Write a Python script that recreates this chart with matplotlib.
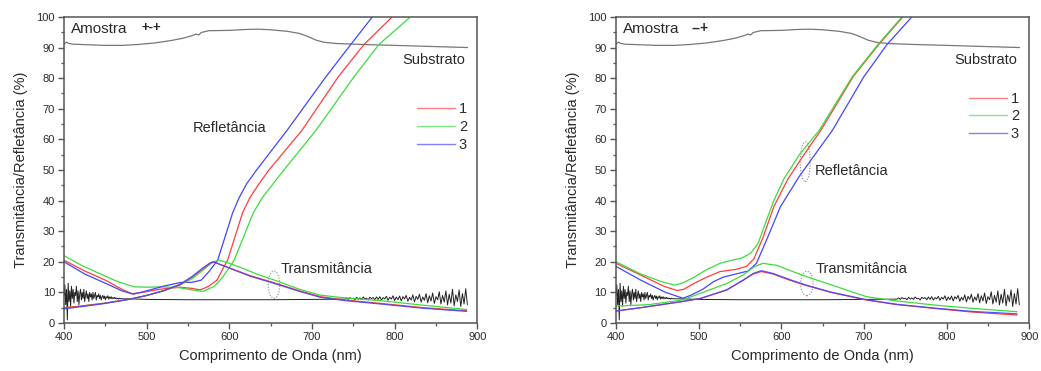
import matplotlib
matplotlib.use("Agg")
import matplotlib.pyplot as plt
from matplotlib.patches import Ellipse
from matplotlib.lines import Line2D

plt.rcParams['font.family'] = ['Liberation Sans', 'DejaVu Sans']

# ---------------- data ----------------
# substrate transmittance (~90 %), identical in both panels
wl_subT = [400, 403, 405, 410, 430, 450, 470, 490, 510, 530, 545, 555, 560, 563, 566, 575,
           600, 620, 635, 650, 670, 685, 695, 705, 715, 730, 760, 800, 850, 888]
subT = [91.0, 91.8, 91.4, 91.1, 90.9, 90.7, 90.7, 91.0, 91.5, 92.3, 93.1, 93.9, 94.4, 94.1, 94.9, 95.5,
        95.6, 95.9, 96.0, 95.8, 95.3, 94.6, 93.6, 92.4, 91.7, 91.3, 91.0, 90.7, 90.3, 90.0]

# substrate reflectance (~8 %), noisy at both ends
wl_subR_start = list(range(400, 471))
subR_start = [9, 12.5, 6, 11, 1, 13, 7, 10.5, 5.5, 12,
              8, 11, 6.5, 10, 9, 12, 7, 10.5, 6, 9.5,
              11, 7.5, 10, 8, 11, 7, 9, 10.5, 8, 9.5,
              7, 10, 8.5, 9.5, 7.5, 10, 8, 9, 10, 7.5,
              9, 8.5, 9.5, 8, 9, 7.5, 8.5, 9, 8, 8.8,
              7.6, 8.6, 8.2, 8.9, 7.8, 8.5, 8.0, 8.6, 7.9, 8.3,
              8.0, 8.4, 7.9, 8.2, 7.9, 8.1, 7.8, 8.1, 7.9, 8.0,
              7.9]
wl_subR_mid = [480, 500, 550, 600, 650, 700, 730]
subR_mid = [7.9, 7.7, 7.6, 7.6, 7.6, 7.7, 7.8]
wl_subR_end = list(range(740, 890, 2))
subR_end = [7.8, 8.2, 7.7, 8.3, 7.9, 8.1, 7.6, 8.4, 7.8, 8.2, 7.7, 8.5, 7.9, 8.1, 7.5, 8.4, 8.0, 8.3, 7.6, 8.5,
            7.7, 8.6, 7.5, 8.3, 7.9, 8.7, 7.4, 8.4, 7.8, 8.9, 7.3, 8.5, 7.6, 8.8, 7.2, 8.6, 7.9, 9.0, 7.1, 8.4,
            7.5, 9.2, 6.9, 8.7, 7.7, 9.4, 6.8, 8.5, 7.4, 9.6, 6.6, 8.9, 7.2, 9.8, 6.4, 8.6, 7.6, 10.2, 6.2, 9.0,
            6.8, 10.5, 5.9, 9.4, 6.5, 11.0, 5.6, 9.2, 7.0, 10.8, 5.4, 9.6, 6.2, 11.2, 6.0]
wl_subR = wl_subR_start + wl_subR_mid + wl_subR_end
subR = subR_start + subR_mid + subR_end

# ---- Panel A: Amostra +-+ ----
A_wl_R1 = [400, 425, 450, 470, 482, 495, 515, 540, 555, 565, 575, 585, 598, 609, 616, 625, 636, 648, 688, 732, 763, 797, 805]
A_R1 = [20.5, 17, 14, 11, 9.6, 10, 11, 11.7, 11.3, 10.8, 12, 14, 20.6, 30, 36, 41, 45.5, 50, 63, 80.5, 91, 100, 102]
A_wl_R2 = [400, 420, 440, 465, 485, 500, 520, 540, 555, 568, 582, 592, 606, 620, 629, 640, 653, 666, 705, 751, 781, 819, 825]
A_R2 = [22, 19, 16.5, 13.5, 11.8, 11.7, 11.8, 11.5, 10.8, 10.3, 12, 15, 20.6, 30, 36, 41, 45.5, 50, 63, 80.5, 91, 100, 102]
A_wl_R3 = [400, 425, 450, 470, 484, 500, 520, 540, 555, 566, 576, 586, 597, 604, 612, 621, 633, 670, 717, 747, 773, 780]
A_R3 = [20, 16, 13, 10.5, 9.4, 10.5, 12, 13.2, 13.3, 14, 17, 20.6, 30, 36, 41, 45.5, 50, 63, 80.5, 91, 100, 102]

A_wl_T = [400, 420, 450, 480, 500, 520, 540, 555, 567, 577, 581, 590, 605, 625, 657, 685, 710, 740, 783, 835, 887]
A_T1 = [5, 5.5, 6.5, 7.8, 9, 10.5, 12.5, 15, 17.5, 19.5, 20, 19, 17.5, 15.5, 12.9, 10.5, 8.6, 7.5, 6.4, 5, 4]
A_T3 = [4.6, 5.3, 6.4, 7.8, 9, 10.5, 12.6, 15.2, 17.8, 19.7, 20, 19, 17.4, 15.3, 12.7, 10.3, 8.4, 7.3, 6.2, 4.8, 3.8]
A_wl_T2 = [400, 420, 450, 480, 500, 520, 540, 555, 567, 578, 587, 600, 615, 633, 657, 685, 710, 740, 783, 835, 887]
A_T2 = [5, 5.5, 6.5, 7.8, 9, 10.5, 12.3, 14.5, 17, 19.5, 20.6, 19.5, 18, 16, 13.8, 11, 9.1, 8.2, 7.3, 5.8, 4.4]

# ---- Panel B: Amostra --+ ----
B_wl_R1 = [400, 435, 458, 474, 482, 495, 510, 526, 545, 558, 567, 578, 591, 608, 625, 648, 687, 718, 747, 753]
B_R1 = [19.5, 15, 12, 10.6, 11, 13, 15, 16.8, 17.5, 18.5, 21, 28, 38, 47, 54, 63, 80.5, 91, 100, 102]
B_wl_R2 = [400, 430, 455, 471, 480, 495, 510, 526, 540, 552, 563, 572, 580, 591, 603, 622, 646, 686, 717, 746, 752]
B_R2 = [20, 16, 13.5, 12.4, 13, 15, 17.5, 19.5, 20.5, 21.2, 22.8, 26, 32, 40, 47, 55, 63, 80.5, 91, 100, 102]
B_wl_R3 = [400, 430, 460, 481, 490, 505, 518, 530, 545, 560, 570, 582, 599, 622, 662, 700, 728, 758, 765]
B_R3 = [18.5, 14, 10, 8.1, 9, 11, 13.5, 15, 16, 17, 19.5, 27, 38, 48, 63, 80.5, 91, 100, 102]

B_wl_T = [400, 430, 455, 480, 502, 534, 554, 566, 576, 590, 610, 631, 660, 703, 740, 784, 830, 885]
B_T1 = [3.9, 5, 6, 7, 8, 10.8, 14, 16, 16.8, 16, 14, 12.2, 10, 7.5, 6, 4.8, 3.6, 2.6]
B_T3 = [3.9, 5, 6, 7, 8, 10.8, 14, 16.2, 17.1, 16.2, 14.2, 12.3, 10.1, 7.6, 6.1, 4.9, 3.8, 3.0]
B_wl_T2 = [400, 440, 480, 502, 534, 554, 568, 578, 595, 612, 631, 660, 703, 740, 784, 830, 885]
B_T2 = [5.5, 6, 7.5, 9.7, 12.9, 15.7, 18.5, 19.5, 18.8, 17, 15.1, 12.5, 8.6, 7.2, 5.9, 4.8, 3.7]

series_labels = ['1', '2', '3']
xticks = [400, 500, 600, 700, 800, 900]
yticks = [0, 10, 20, 30, 40, 50, 60, 70, 80, 90, 100]

RED, GREEN, BLUE = '#ff3c3c', '#3cdc3c', '#4444ff'
LEG_RED, LEG_GREEN, LEG_BLUE = '#ff8080', '#80e880', '#8080ff'
TXT = '#2a2a2a'
SPINE = '#555555'

fig = plt.figure(figsize=(10.41, 3.71), dpi=100)
axA = fig.add_axes([0.0615, 0.1294, 0.397, 0.825])
axB = fig.add_axes([0.5917, 0.1294, 0.397, 0.825])


def base(ax):
    ax.set_xlim(400, 900)
    ax.set_ylim(0, 100)
    ax.set_xticks(xticks)
    ax.set_yticks(yticks)
    ax.set_xticks([450, 550, 650, 750, 850], minor=True)
    ax.set_yticks([5, 15, 25, 35, 45, 55, 65, 75, 85, 95], minor=True)
    ax.tick_params(axis='both', which='major', direction='out', length=4.5, width=1.0,
                   color=SPINE, labelsize=8, labelcolor=TXT, pad=2)
    ax.tick_params(axis='both', which='minor', direction='out', length=2.5, width=0.9, color=SPINE)
    ax.tick_params(top=False, right=False)
    for s in ax.spines.values():
        s.set_color(SPINE)
        s.set_linewidth(1.1)
    ax.set_xlabel('Comprimento de Onda (nm)', fontsize=10.5, color=TXT, labelpad=5)
    ax.set_ylabel('Transmitância/Refletância (%)', fontsize=10.5, color=TXT, labelpad=6)
    ax.plot(wl_subT, subT, color='#777777', lw=0.9)
    ax.plot(wl_subR, subR, color='#222222', lw=0.7)


base(axA)
base(axB)

# Panel A curves
for wl, y, c in [(A_wl_R1, A_R1, RED), (A_wl_R2, A_R2, GREEN), (A_wl_R3, A_R3, BLUE)]:
    axA.plot(wl, y, color=c, lw=0.9)
axA.plot(A_wl_T2, A_T2, color=GREEN, lw=0.9)
axA.plot(A_wl_T, A_T1, color=RED, lw=0.9)
axA.plot(A_wl_T, A_T3, color=BLUE, lw=0.9, alpha=0.9)

# Panel B curves
for wl, y, c in [(B_wl_R1, B_R1, RED), (B_wl_R2, B_R2, GREEN), (B_wl_R3, B_R3, BLUE)]:
    axB.plot(wl, y, color=c, lw=0.9)
axB.plot(B_wl_T2, B_T2, color=GREEN, lw=0.9)
axB.plot(B_wl_T, B_T1, color=RED, lw=0.9)
axB.plot(B_wl_T, B_T3, color=BLUE, lw=0.9, alpha=0.9)

# texts
axA.text(409, 96, 'Amostra', fontsize=11, color=TXT, va='center')
axA.text(494, 96.5, '+-+', fontsize=9.5, color=TXT, va='center', fontweight='bold')
axB.text(409, 96, 'Amostra', fontsize=11, color=TXT, va='center')
axB.text(491, 96.5, '--+', fontsize=10, color=TXT, va='center', fontweight='bold')
for ax in (axA, axB):
    ax.text(885, 86, 'Substrato', fontsize=10.5, color=TXT, va='center', ha='right')
axA.text(556, 63.6, 'Refletância', fontsize=10.5, color=TXT, va='center')
axA.text(662, 17.5, 'Transmitância', fontsize=10.5, color=TXT, va='center')
axB.text(640, 49.7, 'Refletância', fontsize=10.5, color=TXT, va='center')
axB.text(642, 17.8, 'Transmitância', fontsize=10.5, color=TXT, va='center')

# dotted ellipses
axA.add_patch(Ellipse((654, 12.5), 14, 9, fill=False, ls=(0, (1, 1.5)), ec='#888888', lw=0.8))
axB.add_patch(Ellipse((631, 12.9), 15, 8, fill=False, ls=(0, (1, 1.5)), ec='#888888', lw=0.8))
axB.add_patch(Ellipse((629, 52.7), 12, 13, fill=False, ls=(0, (1, 1.5)), ec='#888888', lw=0.8))

# legends
handles = [Line2D([], [], color=c, lw=1.0) for c in (LEG_RED, LEG_GREEN, LEG_BLUE)]
axA.legend(handles, series_labels, loc='center right', bbox_to_anchor=(1.0, 0.64),
           frameon=False, fontsize=10.5, handlelength=2.6, handletextpad=0.3,
           labelspacing=0.25, borderaxespad=0.3, labelcolor=TXT)
axB.legend(handles, series_labels, loc='center right', bbox_to_anchor=(1.0, 0.675),
           frameon=False, fontsize=10.5, handlelength=2.6, handletextpad=0.3,
           labelspacing=0.25, borderaxespad=0.3, labelcolor=TXT)

fig.savefig('out.png', dpi=100)
